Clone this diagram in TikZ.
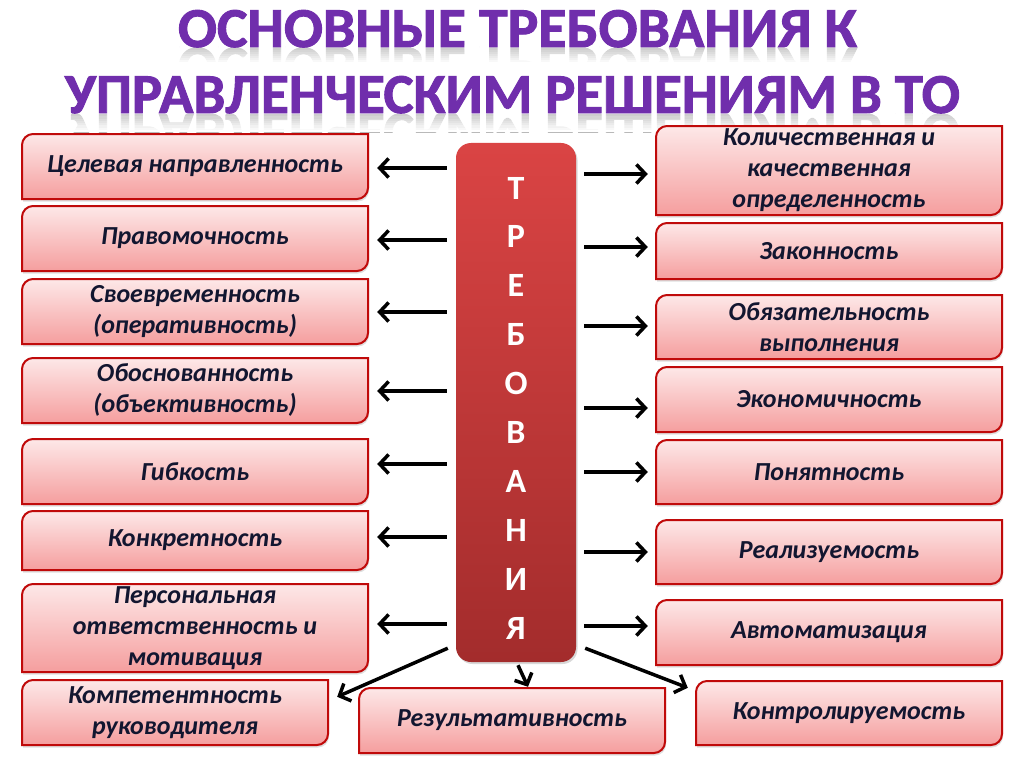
\documentclass[tikz,border=0pt]{standalone}
\usepackage{fontspec}
\usepackage{graphicx}
\setmainfont{Carlito}
\newfontfamily\titlefont{Carlito}[UprightFont=*-Bold, FakeBold=1.6]
\usetikzlibrary{arrows.meta,shadows}
\definecolor{titlepurple}{RGB}{112,46,172}
\definecolor{boxtop}{RGB}{253,232,232}
\definecolor{boxbot}{RGB}{245,158,158}
\definecolor{boxline}{RGB}{192,10,10}
\definecolor{navy}{RGB}{18,22,48}
\definecolor{coltop}{RGB}{218,68,68}
\definecolor{colbot}{RGB}{163,44,44}
\tikzset{
  boxshape/.style={top color=boxtop, bottom color=boxbot, draw=boxline, line width=2bp,
    drop shadow={opacity=0.25, shadow xshift=1bp, shadow yshift=-2.5bp}},
  boxtext/.style={inner sep=0pt, align=center, text=navy,
    font=\fontsize{26bp}{31bp}\selectfont\bfseries\itshape},
  arr/.style={line width=3.5bp, -{Straight Barb[length=9bp,width=19bp]}},
  colletter/.style={text=white, font=\fontsize{34bp}{40bp}\selectfont\bfseries, inner sep=0pt},
  titletext/.style={anchor=base, inner sep=0pt, text=titlepurple},
  refltext/.style={anchor=base, inner sep=0pt, text=gray!55},
}
\newcommand\pbox[6]{%
  \path[boxshape] (#2,#5) -- (#2,#3+11) .. controls (#2,#3+5) and (#2+5,#3) .. (#2+11,#3)
    -- (#4,#3) -- (#4,#5-11) .. controls (#4,#5-5) and (#4-5,#5) .. (#4-11,#5) -- cycle;
  \pgfmathsetmacro\bw{#4-#2}\pgfmathsetmacro\bh{#5-#3}%
  \node[boxtext, minimum width=\bw bp, minimum height=\bh bp] (#1) at ({(#2+#4)/2},{(#3+#5)/2}) {#6};
}
\begin{document}
\begin{tikzpicture}[x=1bp,y=-1bp]
\useasboundingbox[fill=white] (0,0) rectangle (1024,767);
% title reflections
\begin{scope}
  \clip (0,48) rectangle (1024,64);
  \node[refltext] (t1r) at (517.5,48) {\scalebox{1}[-1]{\resizebox{679bp}{37bp}{\titlefont ОСНОВНЫЕ ТРЕБОВАНИЯ К}}};
\end{scope}
\begin{scope}
  \clip (0,114) rectangle (1024,132);
  \node[refltext] (t2r) at (512.5,114) {\scalebox{1}[-1]{\resizebox{895bp}{37bp}{\titlefont УПРАВЛЕНЧЕСКИМ РЕШЕНИЯМ В ТО}}};
\end{scope}
\foreach \k in {0,...,7}{
  \fill[white, opacity=0.3+\k*0.1] (0,48+2*\k) rectangle (1024,50+2*\k);
  \fill[white, opacity=0.3+\k*0.1] (0,114+2.25*\k) rectangle (1024,116.25+2.25*\k);
}
% title
\node[titletext] (t1) at (517.5,47) {\resizebox{679bp}{37bp}{\titlefont ОСНОВНЫЕ ТРЕБОВАНИЯ К}};
\node[titletext] (t2) at (512.5,113) {\resizebox{895bp}{37bp}{\titlefont УПРАВЛЕНЧЕСКИМ РЕШЕНИЯМ В ТО}};
% central column
\node[rounded corners=15bp, top color=coltop, bottom color=colbot, minimum width=120bp,
  minimum height=519bp, inner sep=0pt,
  drop shadow={opacity=0.3, shadow xshift=1.5bp, shadow yshift=-2bp}] (col) at (516,402.5) {};
\foreach \l [count=\i] in {Т,Р,Е,Б,О,В,А,Н,И,Я}
  \node[colletter] (c\i) at (516,{188+(\i-1)*48.9}) {\l};
% left boxes
\pbox{L1}{22}{134}{368}{199}{Целевая направленность}
\pbox{L2}{22}{206}{368}{271}{Правомочность}
\pbox{L3}{22}{279}{368}{344}{Своевременность\\(оперативность)}
\pbox{L4}{22}{358}{368}{423}{Обоснованность\\(объективность)}
\pbox{L5}{22}{439}{368}{504}{Гибкость}
\pbox{L6}{22}{511}{368}{570}{Конкретность}
\pbox{L7}{22}{584}{368}{672}{Персональная\\ответственность и\\мотивация}
\pbox{L8}{22}{680}{328}{745}{Компетентность\\руководителя}
% right boxes
\pbox{R1}{656}{126}{1002}{215}{Количественная и\\качественная\\определенность}
\pbox{R2}{656}{223}{1002}{279}{Законность}
\pbox{R3}{656}{295}{1002}{359}{Обязательность\\выполнения}
\pbox{R4}{656}{367}{1002}{432}{Экономичность}
\pbox{R5}{656}{440}{1002}{504}{Понятность}
\pbox{R6}{656}{520}{1002}{584}{Реализуемость}
\pbox{R7}{656}{600}{1002}{665}{Автоматизация}
\pbox{R8}{696}{681}{1002}{745}{Контролируемость}
% bottom box
\pbox{B}{359}{688}{665}{753}{Результативность}
% left arrows
\draw[arr, shorten <=9bp, shorten >=9bp] (col.west |- 0,168) -- (L1.east |- 0,168);
\draw[arr, shorten <=9bp, shorten >=9bp] (col.west |- 0,240) -- (L2.east |- 0,240);
\draw[arr, shorten <=9bp, shorten >=9bp] (col.west |- 0,312) -- (L3.east |- 0,312);
\draw[arr, shorten <=9bp, shorten >=9bp] (col.west |- 0,391) -- (L4.east |- 0,391);
\draw[arr, shorten <=9bp, shorten >=9bp] (col.west |- 0,464) -- (L5.east |- 0,464);
\draw[arr, shorten <=9bp, shorten >=9bp] (col.west |- 0,537) -- (L6.east |- 0,537);
\draw[arr, shorten <=9bp, shorten >=9bp] (col.west |- 0,624) -- (L7.east |- 0,624);
% right arrows
\draw[arr, shorten <=8bp, shorten >=8bp] (col.east |- 0,174) -- (R1.west |- 0,174);
\draw[arr, shorten <=8bp, shorten >=8bp] (col.east |- 0,247) -- (R2.west |- 0,247);
\draw[arr, shorten <=8bp, shorten >=8bp] (col.east |- 0,326) -- (R3.west |- 0,326);
\draw[arr, shorten <=8bp, shorten >=8bp] (col.east |- 0,408) -- (R4.west |- 0,408);
\draw[arr, shorten <=8bp, shorten >=8bp] (col.east |- 0,472) -- (R5.west |- 0,472);
\draw[arr, shorten <=8bp, shorten >=8bp] (col.east |- 0,552) -- (R6.west |- 0,552);
\draw[arr, shorten <=8bp, shorten >=8bp] (col.east |- 0,626) -- (R7.west |- 0,626);
% diagonal / bottom arrows
\draw[arr] ([shift={(-8,-14)}]col.south west) -- ([shift={(9,17)}]L8.north east);
\draw[arr] ([shift={(2,3)}]col.south) -- ([shift={(16,-1)}]B.north);
\draw[arr] ([shift={(9,-14)}]col.south east) -- ([shift={(-8,7)}]R8.north west);
\end{tikzpicture}
\end{document}
